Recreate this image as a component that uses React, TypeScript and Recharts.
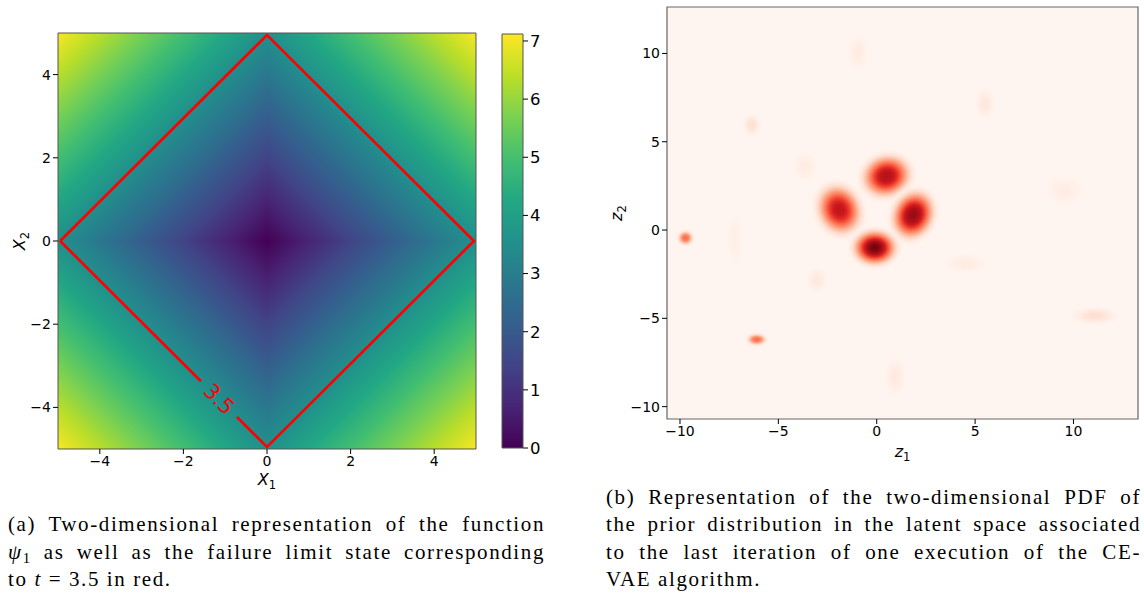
import React from 'react';
import { ComposedChart, XAxis, YAxis, ReferenceArea, Line, Scatter, Label } from 'recharts';

// ---------- panel (a): psi_1 on the standard normal space ----------
const x1Ticks = [-4, -2, 0, 2, 4];
const x2Ticks = [-4, -2, 0, 2, 4];
const xBound = 5;
const psiMax = 7.12;
const psiTicks = [0, 1, 2, 3, 4, 5, 6, 7];

// limit state psi_1 = 3.5, gap left where the inline label sits
const limitState = [
  { x1: -4.95, x2: 0 },
  { x1: 0, x2: 4.95 },
  { x1: 4.95, x2: 0 },
  { x1: 0, x2: -4.95 },
  { x1: -0.72, x2: -4.23 },
  { x1: -1.15, x2: null },
  { x1: -1.58, x2: -3.37 },
  { x1: -4.95, x2: 0 },
];
const contourLabels = [{ x1: -1.15, x2: -3.8, text: '3.5' }];

// psi_1 = (|x1| + |x2|) / sqrt(2) is linear inside each quadrant
const quadrants = [
  { sx: 1, sy: 1 },
  { sx: -1, sy: 1 },
  { sx: -1, sy: -1 },
  { sx: 1, sy: -1 },
];

// ---------- panel (b): prior PDF in the latent space ----------
const z1Ticks = [-10, -5, 0, 5, 10];
const z2Ticks = [-10, -5, 0, 5, 10];
const z1Domain = [-10.66, 13.28];
const z2Domain = [-10.7, 12.63];

// mixture modes: centre, spread, tilt (deg), relative peak density
const modes = [
  { z1: -7.2, z2: -0.5, s1: 0.22, s2: 0.9, tilt: 0, peak: 0.04 },
  { z1: -0.95, z2: 10.05, s1: 0.29, s2: 0.57, tilt: 0, peak: 0.06 },
  { z1: -3.65, z2: 3.6, s1: 0.37, s2: 0.5, tilt: 0, peak: 0.05 },
  { z1: 5.5, z2: 7.15, s1: 0.29, s2: 0.5, tilt: 0, peak: 0.08 },
  { z1: 9.55, z2: 2.25, s1: 0.54, s2: 0.48, tilt: 0, peak: 0.05 },
  { z1: 4.55, z2: -1.9, s1: 0.6, s2: 0.32, tilt: 0, peak: 0.06 },
  { z1: 11.1, z2: -4.85, s1: 0.65, s2: 0.28, tilt: 0, peak: 0.12 },
  { z1: 0.95, z2: -8.3, s1: 0.29, s2: 0.62, tilt: 0, peak: 0.07 },
  { z1: -3.05, z2: -2.85, s1: 0.31, s2: 0.42, tilt: 0, peak: 0.07 },
  { z1: -6.35, z2: 5.95, s1: 0.25, s2: 0.36, tilt: 0, peak: 0.12 },
  { z1: -9.72, z2: -0.45, s1: 0.24, s2: 0.25, tilt: 0, peak: 0.48 },
  { z1: -6.1, z2: -6.2, s1: 0.3, s2: 0.2, tilt: 0, peak: 0.48 },
  { z1: -1.9, z2: 1.15, s1: 0.66, s2: 0.87, tilt: -25, peak: 0.78 },
  { z1: 0.5, z2: 3.05, s1: 0.75, s2: 0.71, tilt: -15, peak: 0.82 },
  { z1: 1.85, z2: 0.85, s1: 0.62, s2: 0.84, tilt: 25, peak: 0.9 },
  { z1: -0.1, z2: -1.0, s1: 0.66, s2: 0.59, tilt: 0, peak: 0.97 },
];

const captionA = [
  ['(a) Two-dimensional representation of the function'],
  ['PSI', ' as well as the failure limit state corresponding'],
  ['to ', 'T', ' = 3.5 in red.'],
];
const captionB = [
  '(b) Representation of the two-dimensional PDF of',
  'the prior distribution in the latent space associated',
  'to the last iteration of one execution of the CE-',
  'VAE algorithm.',
];

const viridis = ['#440154', '#482475', '#414487', '#355f8d', '#2a788e', '#21918c', '#22a884', '#44bf70', '#7ad151', '#bddf26', '#fde725'];
const reds = ['#fff5f0', '#fee0d2', '#fcbba1', '#fc9272', '#fb6a4a', '#ef3b2c', '#cb181d', '#a50f15', '#67000d'];

function hex(c: string) {
  return [1, 3, 5].map((i) => parseInt(c.slice(i, i + 2), 16));
}

function cmap(stops: string[], t: number) {
  const c = Math.min(1, Math.max(0, t)) * (stops.length - 1);
  const i = Math.min(stops.length - 2, Math.floor(c));
  const f = c - i;
  const a = hex(stops[i]);
  const b = hex(stops[i + 1]);
  const m = a.map((v, k) => Math.round(v + (b[k] - v) * f));
  return `rgb(${m[0]},${m[1]},${m[2]})`;
}

const minus = (v: number) => String(v).replace('-', '\u2212');
const tickFont = { fill: '#000', fontSize: 14, fontFamily: 'DejaVu Sans' };
const tickLine = { stroke: '#000', strokeWidth: 1 };

function axisTitle(main: string, sub: string, dx: number, dy: number, vertical: boolean) {
  return (props: any) => {
    const vb = props.viewBox || { x: 0, y: 0, width: 0, height: 0 };
    const x = vertical ? vb.x + dx : vb.x + vb.width / 2;
    const y = vertical ? vb.y + vb.height / 2 : vb.y + dy;
    return (
      <text
        x={x}
        y={y}
        textAnchor="middle"
        fontFamily="DejaVu Sans"
        fontSize={16}
        fill="#000"
        transform={vertical ? `rotate(-90 ${x} ${y})` : undefined}
      >
        <tspan fontStyle="italic">{main}</tspan>
        <tspan fontSize={11.5} dy={4}>{sub}</tspan>
      </text>
    );
  };
}

function quadrantShape(q: { sx: number; sy: number }, i: number) {
  const corner = Math.SQRT2 * xBound;
  const fx = q.sx > 0 ? 0 : 1;
  const fy = q.sy > 0 ? 1 : 0;
  const steps = Array.from({ length: 11 }, (_, k) => k / 10);
  return (p: any) => (
    <g>
      <defs>
        <linearGradient id={`psi-q${i}`} x1={fx} y1={fy} x2={1 - fx} y2={1 - fy}>
          {steps.map((s) => (
            <stop key={s} offset={s} stopColor={cmap(viridis, (s * corner) / psiMax)} />
          ))}
        </linearGradient>
      </defs>
      <rect x={p.x} y={p.y} width={p.width} height={p.height} fill={`url(#psi-q${i})`} />
    </g>
  );
}

// radial density profile of a mode, d in units of its spread
const profile = (d: number) => Math.exp(-0.5 * Math.pow(d, 2.6));

function modeShape(m: (typeof modes)[number], i: number) {
  const steps = Array.from({ length: 19 }, (_, k) => k / 18);
  return (p: any) => {
    const cx = p.x + p.width / 2;
    const cy = p.y + p.height / 2;
    return (
      <g>
        <defs>
          <radialGradient id={`mode-${i}`}>
            {steps.map((o) => {
              const v = m.peak * profile(o * 3);
              return (
                <stop key={o} offset={o} stopColor={cmap(reds, v)} stopOpacity={Math.min(1, (10 * v) / m.peak)} />
              );
            })}
          </radialGradient>
        </defs>
        <ellipse
          cx={cx}
          cy={cy}
          rx={p.width / 2}
          ry={Math.abs(p.height) / 2}
          fill={`url(#mode-${i})`}
          transform={`rotate(${m.tilt} ${cx} ${cy})`}
        />
      </g>
    );
  };
}

function PsiPanel() {
  return (
    <ComposedChart width={560} height={500} margin={{ top: 33, right: 84, bottom: 11, left: 0 }}>
      <XAxis
        type="number"
        dataKey="x1"
        domain={[-xBound, xBound]}
        ticks={x1Ticks}
        interval={0}
        allowDataOverflow
        height={40}
        axisLine={false}
        tickLine={tickLine}
        tickSize={5}
        tick={tickFont}
        tickFormatter={minus}
        label={<Label content={axisTitle('X', '1', 0, 36, false)} />}
      />
      <YAxis
        type="number"
        dataKey="x2"
        domain={[-xBound, xBound]}
        ticks={x2Ticks}
        interval={0}
        allowDataOverflow
        width={58}
        axisLine={false}
        tickLine={tickLine}
        tickSize={5}
        tick={tickFont}
        tickFormatter={minus}
        label={<Label content={axisTitle('X', '2', 25, 0, true)} />}
      />
      {quadrants.map((q, i) => (
        <ReferenceArea
          key={i}
          x1={0}
          x2={q.sx * xBound}
          y1={0}
          y2={q.sy * xBound}
          fillOpacity={1}
          shape={quadrantShape(q, i)}
        />
      ))}
      <ReferenceArea x1={-xBound} x2={xBound} y1={-xBound} y2={xBound} fill="none" stroke="#555" strokeWidth={1} />
      <Line
        data={limitState}
        dataKey="x2"
        type="linear"
        stroke="#ff0000"
        strokeWidth={2.7}
        dot={false}
        activeDot={false}
        connectNulls={false}
        isAnimationActive={false}
      />
      <Scatter
        data={contourLabels}
        dataKey="x2"
        isAnimationActive={false}
        shape={(p: any) => (
          <text
            x={p.cx}
            y={p.cy}
            textAnchor="middle"
            dominantBaseline="central"
            fontFamily="DejaVu Sans"
            fontSize={21}
            fill="#ff0000"
            transform={`rotate(45 ${p.cx} ${p.cy})`}
          >
            {p.payload.text}
          </text>
        )}
      />
    </ComposedChart>
  );
}

function Colorbar() {
  const steps = Array.from({ length: 11 }, (_, k) => k / 10);
  return (
    <ComposedChart width={70} height={500} margin={{ top: 34, right: 0, bottom: 52, left: 12 }}>
      <defs>
        <linearGradient id="psi-bar" x1={0} y1={1} x2={0} y2={0}>
          {steps.map((s) => (
            <stop key={s} offset={s} stopColor={cmap(viridis, s)} />
          ))}
        </linearGradient>
      </defs>
      <XAxis type="number" dataKey="c" domain={[0, 1]} hide allowDataOverflow />
      <YAxis
        type="number"
        dataKey="psi"
        orientation="right"
        domain={[0, psiMax]}
        ticks={psiTicks}
        interval={0}
        allowDataOverflow
        width={37}
        axisLine={false}
        tickLine={tickLine}
        tickSize={5}
        tick={{ ...tickFont, fontSize: 16.5 }}
      />
      <ReferenceArea x1={0} x2={1} y1={0} y2={psiMax} fill="url(#psi-bar)" fillOpacity={1} stroke="#555" strokeWidth={1} />
      <Scatter data={psiTicks.map((v) => ({ c: 0.5, psi: v }))} dataKey="psi" isAnimationActive={false} shape={() => <g />} />
    </ComposedChart>
  );
}

function PriorPanel() {
  return (
    <ComposedChart width={544} height={470} margin={{ top: 7, right: 6, bottom: 11, left: 0 }}>
      <XAxis
        type="number"
        dataKey="z1"
        domain={z1Domain}
        ticks={z1Ticks}
        interval={0}
        allowDataOverflow
        height={40}
        axisLine={false}
        tickLine={tickLine}
        tickSize={5}
        tick={tickFont}
        tickFormatter={minus}
        label={<Label content={axisTitle('z', '1', 0, 38, false)} />}
      />
      <YAxis
        type="number"
        dataKey="z2"
        domain={z2Domain}
        ticks={z2Ticks}
        interval={0}
        allowDataOverflow
        width={67}
        axisLine={false}
        tickLine={tickLine}
        tickSize={5}
        tick={tickFont}
        tickFormatter={minus}
        label={<Label content={axisTitle('z', '2', 22, 0, true)} />}
      />
      <ReferenceArea
        x1={z1Domain[0]}
        x2={z1Domain[1]}
        y1={z2Domain[0]}
        y2={z2Domain[1]}
        fill={reds[0]}
        fillOpacity={1}
      />
      {modes.map((m, i) => (
        <ReferenceArea
          key={i}
          x1={m.z1 - 3 * m.s1}
          x2={m.z1 + 3 * m.s1}
          y1={m.z2 - 3 * m.s2}
          y2={m.z2 + 3 * m.s2}
          ifOverflow="hidden"
          fillOpacity={1}
          shape={modeShape(m, i)}
        />
      ))}
      <ReferenceArea
        x1={z1Domain[0]}
        x2={z1Domain[1]}
        y1={z2Domain[0]}
        y2={z2Domain[1]}
        fill="none"
        stroke="#666"
        strokeWidth={1.2}
      />
      <Scatter data={modes} dataKey="z2" isAnimationActive={false} shape={() => <g />} />
    </ComposedChart>
  );
}

const capFont: React.CSSProperties = {
  fontFamily: '"Liberation Serif", serif',
  fontSize: 21,
  letterSpacing: 1.6,
  lineHeight: '27.4px',
  height: 27.4,
  color: '#000',
};

function CaptionLine({ children, last }: { children: React.ReactNode; last?: boolean }) {
  return (
    <div
      style={{
        ...capFont,
        whiteSpace: last ? 'nowrap' : 'normal',
        textAlign: last ? 'left' : 'justify',
        textAlignLast: last ? 'left' : 'justify',
      }}
    >
      {children}
    </div>
  );
}

function renderPiece(piece: string, k: number) {
  if (piece === 'PSI')
    return (
      <span key={k}>
        <i>ψ</i>
        <span style={{ fontSize: '0.7em', verticalAlign: '-0.3em', lineHeight: 0 }}>1</span>
      </span>
    );
  if (piece === 'T') return <i key={k}>t</i>;
  return <span key={k}>{piece}</span>;
}

export default function App() {
  return (
    <div style={{ position: 'absolute', left: 0, top: 0, width: 1144, height: 594, background: '#fff', overflow: 'hidden' }}>
      <div style={{ position: 'absolute', left: 0, top: 0 }}>
        <PsiPanel />
      </div>
      <div style={{ position: 'absolute', left: 490, top: 0 }}>
        <Colorbar />
      </div>
      <div style={{ position: 'absolute', left: 600, top: 0 }}>
        <PriorPanel />
      </div>
      <div style={{ position: 'absolute', left: 8, top: 532 - 20.8, width: 537 }}>
        {captionA.map((line, i) => (
          <CaptionLine key={i} last={i === captionA.length - 1}>
            {line.map(renderPiece)}
          </CaptionLine>
        ))}
      </div>
      <div style={{ position: 'absolute', left: 606, top: 504.7 - 20.8, width: 535 }}>
        {captionB.map((line, i) => (
          <CaptionLine key={i} last={i === captionB.length - 1}>
            {line}
          </CaptionLine>
        ))}
      </div>
    </div>
  );
}
